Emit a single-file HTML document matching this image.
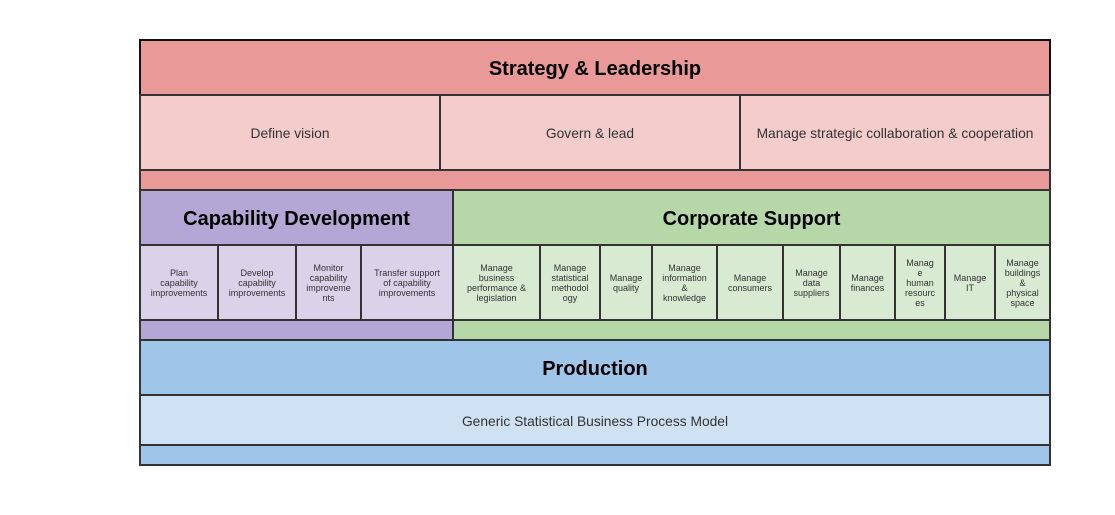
<!DOCTYPE html>
<html>
<head>
<meta charset="utf-8">
<style>
  html,body{margin:0;padding:0;background:#fff;}
  body{width:1115px;height:515px;position:relative;overflow:hidden;font-family:"Liberation Sans",Arial,sans-serif;}
  .b{position:absolute;box-sizing:border-box;border:2px solid #333;display:flex;align-items:center;justify-content:center;text-align:center;}
  .t{font-weight:bold;font-size:20px;color:#000;padding-top:4px;}
  .s{font-size:13.8px;color:#333;padding-top:2px;}
  .c{font-size:9px;line-height:10px;color:#333;}
</style>
</head>
<body>
<!-- Strategy -->
<div class="b t" style="left:139px;top:39px;width:912px;height:57px;background:#ea9999;border-color:#111;">Strategy &amp; Leadership</div>
<div class="b s" style="left:139px;top:94px;width:302px;height:77px;background:#f4cccc;">Define vision</div>
<div class="b s" style="left:439px;top:94px;width:302px;height:77px;background:#f4cccc;">Govern &amp; lead</div>
<div class="b s" style="left:739px;top:94px;width:312px;height:77px;background:#f4cccc;">Manage strategic collaboration &amp; cooperation</div>
<div class="b" style="left:139px;top:169px;width:912px;height:22px;background:#ea9999;"></div>

<!-- Capability -->
<div class="b t" style="left:139px;top:189px;width:315px;height:57px;background:#b4a7d6;">Capability Development</div>
<div class="b c" style="left:139px;top:244px;width:80px;height:77px;background:#d9d2e9;">Plan<br>capability<br>improvements</div>
<div class="b c" style="left:217px;top:244px;width:80px;height:77px;background:#d9d2e9;">Develop<br>capability<br>improvements</div>
<div class="b c" style="left:295px;top:244px;width:67px;height:77px;background:#d9d2e9;">Monitor<br>capability<br>improveme<br>nts</div>
<div class="b c" style="left:360px;top:244px;width:94px;height:77px;background:#d9d2e9;">Transfer support<br>of capability<br>improvements</div>
<div class="b" style="left:139px;top:319px;width:315px;height:22px;background:#b4a7d6;"></div>

<!-- Corporate -->
<div class="b t" style="left:452px;top:189px;width:599px;height:57px;background:#b6d7a8;">Corporate Support</div>
<div class="b c" style="left:452px;top:244px;width:89px;height:77px;background:#d9ead3;">Manage<br>business<br>performance &amp;<br>legislation</div>
<div class="b c" style="left:539px;top:244px;width:62px;height:77px;background:#d9ead3;">Manage<br>statistical<br>methodol<br>ogy</div>
<div class="b c" style="left:599px;top:244px;width:54px;height:77px;background:#d9ead3;">Manage<br>quality</div>
<div class="b c" style="left:651px;top:244px;width:67px;height:77px;background:#d9ead3;">Manage<br>information<br>&amp;<br>knowledge</div>
<div class="b c" style="left:716px;top:244px;width:68px;height:77px;background:#d9ead3;">Manage<br>consumers</div>
<div class="b c" style="left:782px;top:244px;width:59px;height:77px;background:#d9ead3;">Manage<br>data<br>suppliers</div>
<div class="b c" style="left:839px;top:244px;width:57px;height:77px;background:#d9ead3;">Manage<br>finances</div>
<div class="b c" style="left:894px;top:244px;width:52px;height:77px;background:#d9ead3;">Manag<br>e<br>human<br>resourc<br>es</div>
<div class="b c" style="left:944px;top:244px;width:52px;height:77px;background:#d9ead3;">Manage<br>IT</div>
<div class="b c" style="left:994px;top:244px;width:57px;height:77px;background:#d9ead3;">Manage<br>buildings<br>&amp;<br>physical<br>space</div>
<div class="b" style="left:452px;top:319px;width:599px;height:22px;background:#b6d7a8;"></div>

<!-- Production -->
<div class="b t" style="left:139px;top:339px;width:912px;height:57px;background:#9fc5e8;">Production</div>
<div class="b s" style="left:139px;top:394px;width:912px;height:52px;background:#cfe2f3;">Generic Statistical Business Process Model</div>
<div class="b" style="left:139px;top:444px;width:912px;height:22px;background:#9fc5e8;"></div>
</body>
</html>
